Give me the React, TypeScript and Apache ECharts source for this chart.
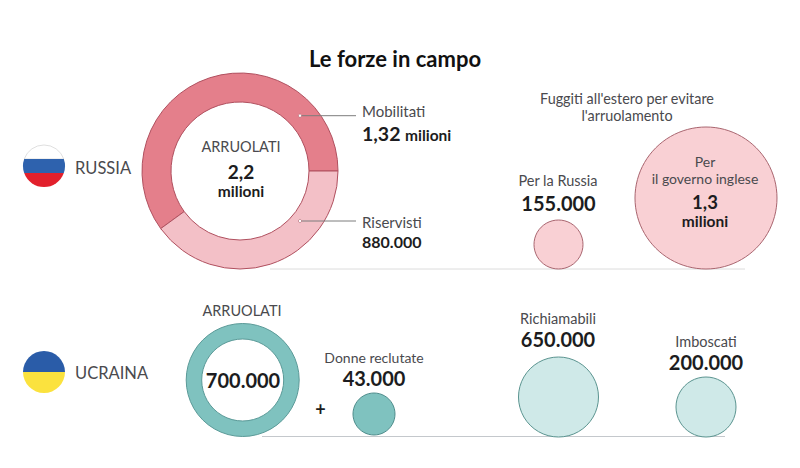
import React, { useEffect, useRef } from "react";
import * as echarts from "echarts";

const russiaEnlistedNames = ["Mobilitati", "Riservisti"];
const russiaEnlistedMillions = [1.32, 0.88];
const russiaTotalMillions = 2.2;
const russiaFledNames = ["Per la Russia", "Per il governo inglese"];
const russiaFledValues = [155000, 1300000];
const ukraineEnlisted = 700000;
const ukraineNames = ["Donne reclutate", "Richiamabili", "Imboscati"];
const ukraineValues = [43000, 650000, 200000];

const FONT = "Lato";
const dots = (n: number) => String(Math.round(n)).replace(/\B(?=(\d{3})+$)/g, ".");
const comma = (n: number) => String(n).replace(".", ",");

const seg = (y1: number, y2: number, r = 21) => {
  const x1 = Math.sqrt(r * r - y1 * y1);
  const x2 = Math.sqrt(r * r - y2 * y2);
  return `M ${-x1} ${y1} L ${x1} ${y1} A ${r} ${r} 0 0 1 ${x2} ${y2} L ${-x2} ${y2} A ${r} ${r} 0 0 1 ${-x1} ${y1} Z`;
};
echarts.graphic.registerShape("flagTop", echarts.graphic.extendPath(`M -19.8 -7 A 21 21 0 0 1 19.8 -7 Z`, {}));
echarts.graphic.registerShape("flagMid", echarts.graphic.extendPath(seg(-7, 7), {}));
echarts.graphic.registerShape("flagBot", echarts.graphic.extendPath(`M 19.8 7 A 21 21 0 0 1 -19.8 7 Z`, {}));
echarts.graphic.registerShape("flagUp", echarts.graphic.extendPath(`M -21 0 A 21 21 0 0 1 21 0 Z`, {}));
echarts.graphic.registerShape("flagDown", echarts.graphic.extendPath(`M 21 0 A 21 21 0 0 1 -21 0 Z`, {}));

const DARK = "#1c1c20";
const GREY = "#4a4a4e";

const txt = (
  text: string,
  x: number,
  y: number,
  size: number,
  bold = false,
  align = "center",
  fill?: string
) => ({
  type: "text",
  x,
  y,
  z: 20,
  silent: true,
  style: {
    text,
    fontFamily: FONT,
    fontSize: size,
    fontWeight: bold ? 700 : 400,
    fill: fill || (bold ? DARK : GREY),
    align,
    verticalAlign: "middle",
  },
});

const circle = (
  name: string,
  value: number,
  center: [number, number],
  radius: number | [number, number],
  color: string,
  border: string
) => ({
  type: "pie",
  name,
  center,
  radius: Array.isArray(radius) ? radius : [0, radius],
  silent: true,
  label: { show: false },
  labelLine: { show: false },
  emphasis: { disabled: true },
  itemStyle: { color, borderColor: border, borderWidth: 1 },
  data: [{ name, value }],
});

const hline = (x1: number, x2: number, y: number, stroke: string, z: number) => ({
  type: "line",
  z,
  silent: true,
  shape: { x1, y1: y, x2, y2: y },
  style: { stroke, lineWidth: 1 },
});

const dot = (x: number, y: number) => ({
  type: "circle",
  z: 21,
  silent: true,
  shape: { cx: x, cy: y, r: 1.6 },
  style: { fill: "#fff", stroke: "#a9606b", lineWidth: 0.6 },
});

const flag = (shape: string, x: number, y: number, fill: string, stroke = "none") => ({
  type: shape,
  x,
  y,
  z: 5,
  silent: true,
  style: { fill, stroke, lineWidth: 0.6 },
});

export default function App() {
  const ref = useRef<HTMLDivElement>(null);
  useEffect(() => {
    document.body.style.margin = "0";
    const chart = echarts.init(ref.current!, undefined, { renderer: "svg" });
    chart.setOption({
      animation: false,
      backgroundColor: "#ffffff",
      series: [
        {
          type: "pie",
          name: "Russia arruolati",
          center: [240, 171],
          radius: [69, 98],
          startAngle: 0,
          clockwise: false,
          silent: true,
          label: { show: false },
          labelLine: { show: false },
          emphasis: { disabled: true },
          itemStyle: { borderColor: "#b0505f", borderWidth: 1 },
          data: [
            { name: russiaEnlistedNames[0], value: russiaEnlistedMillions[0], itemStyle: { color: "#e47f8b" } },
            { name: russiaEnlistedNames[1], value: russiaEnlistedMillions[1], itemStyle: { color: "#f3c0c7" } },
          ],
        },
        circle(russiaFledNames[0], russiaFledValues[0], [558.5, 244.5], 24.5, "#f9d0d4", "#a9656f"),
        circle(russiaFledNames[1], russiaFledValues[1], [706, 198], 71, "#f9d0d4", "#a9656f"),
        circle("Ucraina arruolati", ukraineEnlisted, [242.7, 380], [41, 56.5], "#7fc2bf", "#5b9a98"),
        circle(ukraineNames[0], ukraineValues[0], [374, 414], 21, "#7fc2bf", "#4f8d8c"),
        circle(ukraineNames[1], ukraineValues[1], [558.5, 397], 40, "#cfe9e8", "#5b9490"),
        circle(ukraineNames[2], ukraineValues[2], [706, 407], 30, "#cfe9e8", "#5b9490"),
      ],
      graphic: {
        elements: [
          hline(270, 745, 269, "#dcdcdc", 0),
          hline(262, 725, 436.5, "#c4c8cc", 0),

          flag("flagTop", 44, 166, "#ffffff", "#c9c9c9"),
          flag("flagMid", 44, 166, "#2e62ae"),
          flag("flagBot", 44, 166, "#e2202c"),
          flag("flagUp", 44, 372, "#2a5ca8"),
          flag("flagDown", 44, 372, "#fbe23e"),

          txt("Le forze in campo", 395, 58, 22, true, "center", "#111"),
          txt("RUSSIA", 75, 167.5, 16.5, false, "left"),
          txt("UCRAINA", 75, 372.5, 16.5, false, "left"),

          txt("ARRUOLATI", 241, 146.5, 14.5),
          txt(comma(russiaTotalMillions), 241, 171.5, 19, true),
          txt("milioni", 241, 190.5, 15.5, true),

          hline(300, 356, 115.7, "#7d7d7d", 21),
          dot(300, 115.7),
          txt(russiaEnlistedNames[0], 362, 111, 15, false, "left"),
          txt(comma(russiaEnlistedMillions[0]), 362, 133, 19.5, true, "left"),
          txt("milioni", 405, 134.5, 15.5, true, "left"),

          hline(300, 356, 221, "#7d7d7d", 21),
          dot(300, 221),
          txt(russiaEnlistedNames[1], 362, 222, 15, false, "left"),
          txt(dots(russiaEnlistedMillions[1] * 1000000), 362, 241, 16, true, "left"),

          txt("Fuggiti all'estero per evitare", 627, 98, 14.4),
          txt("l'arruolamento", 627, 115, 14.4),

          txt(russiaFledNames[0], 558, 180, 14.5),
          txt(dots(russiaFledValues[0]), 558.5, 203, 20, true),

          txt("Per", 705, 161, 14),
          txt("il governo inglese", 705, 178, 14),
          txt(comma(russiaFledValues[1] / 1000000), 705, 201.5, 18.5, true),
          txt("milioni", 705, 220.5, 15.5, true),

          txt("ARRUOLATI", 242, 310, 14.5),
          txt(dots(ukraineEnlisted), 243, 380, 20, true),
          txt("+", 320.5, 409, 18, true),

          txt(ukraineNames[0], 374, 357, 14),
          txt(dots(ukraineValues[0]), 374, 378, 20, true),
          txt(ukraineNames[1], 558, 318, 14.5),
          txt(dots(ukraineValues[1]), 558, 339, 20, true),
          txt(ukraineNames[2], 706, 341, 14.5),
          txt(dots(ukraineValues[2]), 706, 362, 20, true),
        ],
      },
    });
    return () => chart.dispose();
  }, []);
  return <div ref={ref} style={{ width: 800, height: 468 }} />;
}
